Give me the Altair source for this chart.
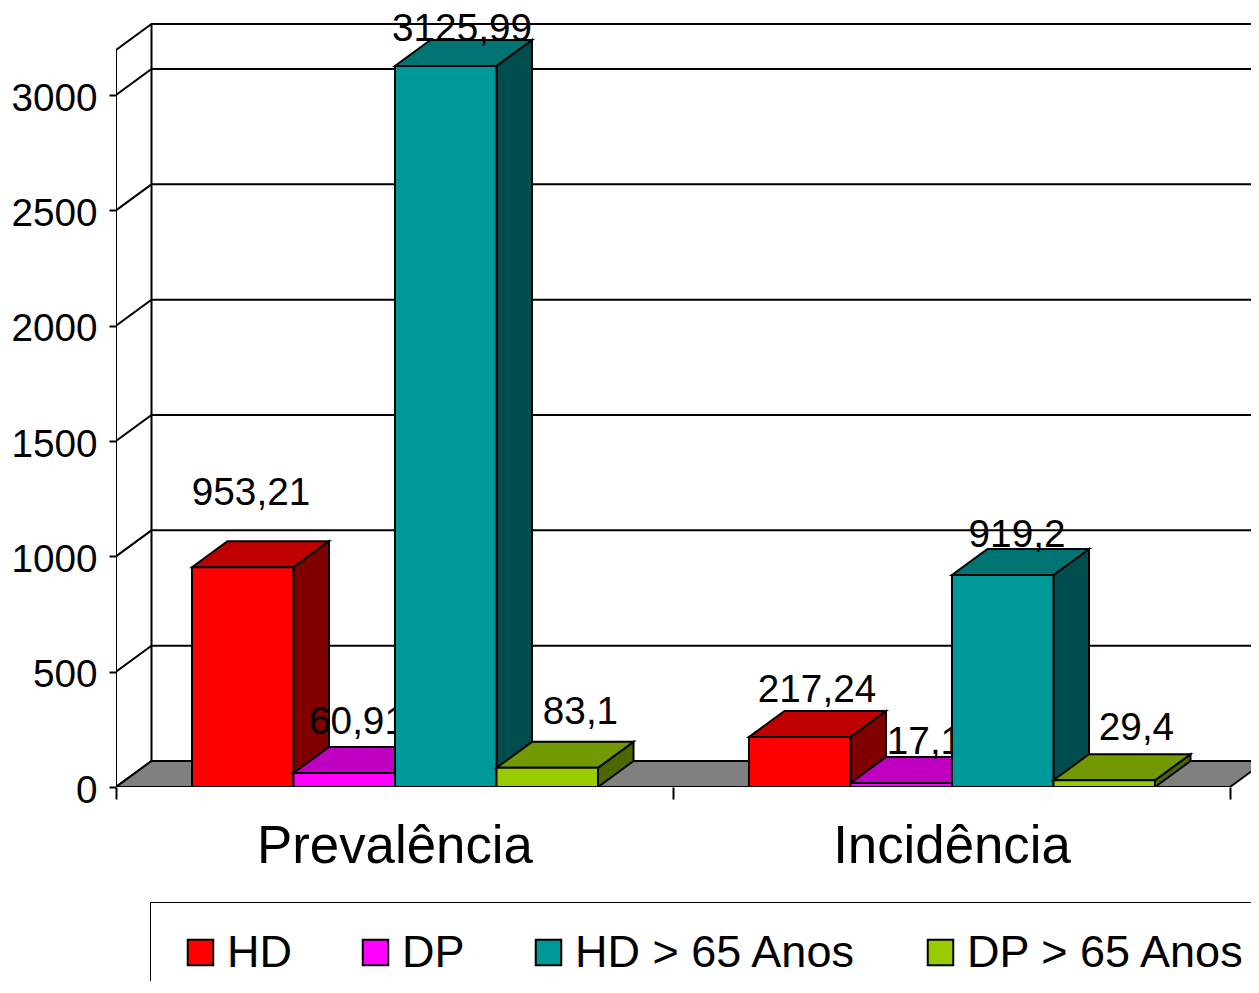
import altair as alt
import pandas as pd

categories = ["Prevalência", "Incidência"]
series = ["HD", "DP", "HD > 65 Anos", "DP > 65 Anos"]
values_hd = [953.21, 217.24]
values_dp = [60.91, 17.1]
values_hd65 = [3125.99, 919.2]
values_dp65 = [83.1, 29.4]
label_hd = ["953,21", "217,24"]
label_dp = ["60,91", "17,1"]
label_hd65 = ["3125,99", "919,2"]
label_dp65 = ["83,1", "29,4"]
y_ticks = [0, 500, 1000, 1500, 2000, 2500, 3000]

front_colors = ["#FF0000", "#FF00FF", "#009999", "#99CC00"]
side_colors = ["#800000", "#800080", "#004D4D", "#4D6600"]
top_colors = ["#C00000", "#C000C0", "#007373", "#739900"]

all_values = [values_hd, values_dp, values_hd65, values_dp65]
all_labels = [label_hd, label_dp, label_hd65, label_dp65]
label_offsets = [
    [(59, -74), (68, -47)],
    [(64, -51), (74, -41)],
    [(67, -37), (65, -40)],
    [(84, -56), (83, -52)],
]

PX_CAT = 557.0
PX_UNIT = 692.0 / 3000.0
W, H = 1135, 765
XMAX = W / PX_CAT
YMAX = H / PX_UNIT
DX = 35.5 / PX_CAT
DY = 26.0 / PX_UNIT
BAR = 101.5 / PX_CAT
GAP = 76.0 / PX_CAT
AXIS_TOP = 3195.0
FONT = "Liberation Sans"
LW = 2

xs = alt.Scale(domain=[0, XMAX], nice=False, zero=False)
ys = alt.Scale(domain=[0, YMAX], nice=False, zero=False)

x_axis = alt.Axis(
    values=[0, 0.5, 1, 1.5, 2],
    title=None,
    grid=False,
    domain=False,
    tickSize=12,
    tickWidth=LW,
    tickColor="black",
    tickOpacity=alt.expr("datum.value % 1 == 0 ? 1 : 0"),
    labelExpr=f"datum.value == 0.5 ? '{categories[0]}' : datum.value == 1.5 ? '{categories[1]}' : ''",
    labelFont=FONT,
    labelFontSize=52.8,
    labelColor="black",
    labelPadding=21,
    labelLimit=600,
    labelFlush=False,
    labelOverlap=False,
)
y_axis = alt.Axis(
    values=y_ticks,
    format="d",
    title=None,
    grid=False,
    domain=False,
    tickSize=7,
    tickWidth=LW,
    tickColor="black",
    labelFont=FONT,
    labelFontSize=38.7,
    labelColor="black",
    labelPadding=12,
    labelOffset=3,
    labelOverlap=False,
    labelFlush=False,
)


def X(name="x"):
    return alt.X(f"{name}:Q", scale=xs, axis=x_axis)


def Y(name="y"):
    return alt.Y(f"{name}:Q", scale=ys, axis=y_axis)


rows = []
for t in y_ticks:
    rows += [
        {"k": t, "i": 0, "x": 0, "y": t},
        {"k": t, "i": 1, "x": DX, "y": t + DY},
        {"k": t, "i": 2, "x": XMAX, "y": t + DY},
    ]
rows += [
    {"k": 9000, "i": 0, "x": 0, "y": 0},
    {"k": 9000, "i": 1, "x": 0, "y": AXIS_TOP},
    {"k": 9000, "i": 2, "x": DX, "y": AXIS_TOP + DY},
    {"k": 9000, "i": 3, "x": XMAX, "y": AXIS_TOP + DY},
    {"k": 9001, "i": 0, "x": DX, "y": DY},
    {"k": 9001, "i": 1, "x": DX, "y": AXIS_TOP + DY},
]
walls = (
    alt.Chart(pd.DataFrame(rows))
    .mark_line(color="black", strokeWidth=LW, clip=True)
    .encode(x=X(), y=Y(), detail="k:N", order="i:Q")
)

floor = (
    alt.Chart(
        pd.DataFrame(
            [
                {"x": 0, "y": 0, "y2": 0},
                {"x": DX, "y": 0, "y2": DY},
                {"x": 2, "y": 0, "y2": DY},
                {"x": 2 + DX, "y": DY, "y2": DY},
            ]
        )
    )
    .mark_area(color="#808080", stroke="black", strokeWidth=LW, clip=True, interpolate="linear")
    .encode(x=X(), y=Y(), y2="y2:Q")
)

layers = [walls, floor]

for s, name in enumerate(series):
    front, side, top, text = [], [], [], []
    for c, cat in enumerate(categories):
        v = all_values[s][c]
        x0 = c + GAP + s * BAR
        x1 = x0 + BAR
        front.append({"serie": name, "x": x0, "x2": x1, "y": v, "y2": 0})
        side += [
            {"g": c, "x": x1, "y": 0, "y2": v},
            {"g": c, "x": x1 + DX, "y": DY, "y2": v + DY},
        ]
        top += [
            {"g": c, "x": x0, "y": v, "y2": v},
            {"g": c, "x": x0 + DX, "y": v, "y2": v + DY},
            {"g": c, "x": x1, "y": v, "y2": v + DY},
            {"g": c, "x": x1 + DX, "y": v + DY, "y2": v + DY},
        ]
        text.append((x0, v, all_labels[s][c], label_offsets[s][c]))

    layers.append(
        alt.Chart(pd.DataFrame(side))
        .mark_area(color=side_colors[s], stroke="black", strokeWidth=LW, clip=True, interpolate="linear")
        .encode(x=X(), y=Y(), y2="y2:Q", detail="g:N")
    )
    layers.append(
        alt.Chart(pd.DataFrame(top))
        .mark_area(color=top_colors[s], stroke="black", strokeWidth=LW, clip=True, interpolate="linear")
        .encode(x=X(), y=Y(), y2="y2:Q", detail="g:N")
    )
    layers.append(
        alt.Chart(pd.DataFrame(front))
        .mark_rect(stroke="black", strokeWidth=LW, clip=True)
        .encode(
            x=X(),
            x2="x2:Q",
            y=Y(),
            y2="y2:Q",
            color=alt.Color(
                "serie:N",
                scale=alt.Scale(domain=series, range=front_colors),
                legend=alt.Legend(
                    title=None,
                    orient="none",
                    legendX=34,
                    legendY=880,
                    direction="horizontal",
                    columns=4,
                    gridAlign="none",
                    columnPadding=61,
                    fillColor="white",
                    strokeColor="black",
                    padding=28,
                    symbolType="square",
                    symbolSize=650,
                    symbolStrokeColor="black",
                    symbolStrokeWidth=LW,
                    labelFont=FONT,
                    labelFontSize=45,
                    labelColor="black",
                    labelLimit=500,
                    labelOffset=4,
                ),
                sort=series,
            ),
        )
    )
    for x0, v, lab, (dx, dy) in text:
        layers.append(
            alt.Chart(pd.DataFrame([{"x": x0, "y": v, "t": lab}]))
            .mark_text(
                font=FONT,
                fontSize=38.7,
                color="black",
                align="center",
                baseline="middle",
                dx=dx,
                dy=dy,
                clip=False,
            )
            .encode(x=X(), y=Y(), text="t:N")
        )

chart = (
    alt.layer(*layers)
    .properties(
        width=W,
        height=H,
        autosize=alt.AutoSizeParams(type="none"),
        padding={"left": 108, "top": 14, "right": 0, "bottom": 194},
        background="white",
    )
    .configure_view(stroke=None)
)

chart.save("out.html", embed_options={"renderer": "svg", "actions": False})
